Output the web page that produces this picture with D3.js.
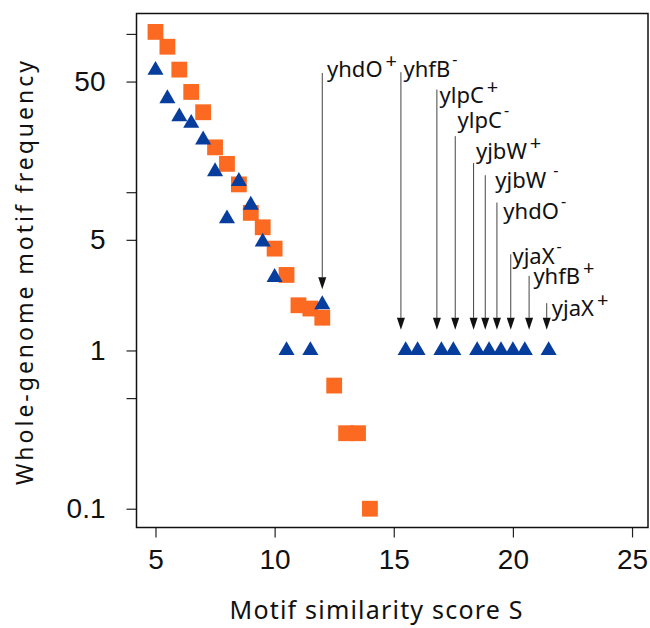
<!DOCTYPE html>
<html>
<head>
<meta charset="utf-8">
<script src="https://cdn.jsdelivr.net/npm/d3@7"></script>
<style>
  body { margin: 0; background: #fff; }
  svg { display: block; }
</style>
</head>
<body>
<div id="chart"></div>
<script>
// orange squares
var sqScore = [5, 5.5, 6, 6.5, 7, 7.5, 8, 8.5, 9, 9.5, 10, 10.5, 11, 11.5, 12, 12.5, 13, 13.5, 14];
var sqFreq  = [103, 83, 59.5, 43, 32, 19.2, 15.1, 11.2, 7.4, 6.0, 4.4, 3.0, 1.93, 1.84, 1.61, 0.6, 0.3, 0.3, 0.1];

// blue triangles
var triScore = [5, 5.5, 6, 6.5, 7, 7.5, 8, 8.5, 9, 9.5, 10, 10.5, 11.5, 12,
                15.5, 16, 17, 17.5, 18.5, 19, 19.5, 20, 20.5, 21.5];
var triFreq  = [59, 39, 30, 27.3, 21.4, 13.5, 6.8, 11.7, 8.3, 4.85, 2.9, 1, 1, 1.95,
                1, 1, 1, 1, 1, 1, 1, 1, 1, 1];

// arrow annotations
var annoGene   = ["yhdO", "yhfB", "ylpC", "ylpC", "yjbW", "yjbW", "yhdO", "yjaX", "yhfB", "yjaX"];
var annoStrand = ["+", "-", "+", "-", "+", "-", "-", "-", "+", "+"];
var annoScore  = [12, 15.30, 16.81, 17.58, 18.35, 18.84, 19.33, 19.91, 20.68, 21.42];
var annoTop    = [56.7, 57.3, 44.5, 22.6, 15.3, 12.8, 8.6, 4.05, 2.96, 1.99];
var annoTip    = [2.44, 1.35, 1.35, 1.35, 1.35, 1.35, 1.35, 1.35, 1.35, 1.35];
var labelScore = [12.20, 15.41, 16.92, 17.68, 18.45, 19.26, 19.60, 19.98, 20.86, 21.63];
var labelFreq  = [53.5, 53.8, 36.7, 25.5, 16.1, 10.7, 6.74, 3.5, 2.62, 1.66];

var xTicks = [5, 10, 15, 20, 25];
var yTicks = [0.1, 0.5, 1, 5, 10, 50, 100];
var yLabeled = [0.1, 1, 5, 50];

var width = 650, height = 628;
var box = {left: 136.5, right: 648, top: 13.5, bottom: 527.5};

var svg = d3.select("#chart").append("svg")
  .attr("width", width)
  .attr("height", height);

var x = d3.scaleLinear().domain([4.203, 25.67]).range([box.left, box.right]);
var y = d3.scaleLog().domain([0.0761, 134.6]).range([box.bottom, box.top]);

// axes
var xAxis = svg.append("g")
  .attr("transform", "translate(0," + box.bottom + ")")
  .call(d3.axisBottom(x).tickValues(xTicks).tickSize(10).tickPadding(12).tickFormat(d3.format("d")));
xAxis.select(".domain").remove();
xAxis.selectAll("text").style("font-family", "Liberation Sans").style("font-size", "28px").attr("fill", "#111");

var yAxis = svg.append("g")
  .attr("transform", "translate(" + box.left + ",0)")
  .call(d3.axisLeft(y).tickValues(yTicks).tickSize(10).tickPadding(21)
    .tickFormat(function(d) { return yLabeled.indexOf(d) >= 0 ? String(d) : ""; }));
yAxis.select(".domain").remove();
yAxis.selectAll("text").style("font-family", "Liberation Sans").style("font-size", "28px").attr("fill", "#111");

svg.selectAll(".tick line").attr("stroke", "#222").attr("stroke-width", 1.2);

// frame
svg.append("rect")
  .attr("x", box.left).attr("y", box.top)
  .attr("width", box.right - box.left).attr("height", box.bottom - box.top)
  .attr("fill", "none").attr("stroke", "#111").attr("stroke-width", 1.5);

// axis titles
svg.append("text")
  .attr("x", 376).attr("y", 619)
  .attr("text-anchor", "middle")
  .attr("textLength", 293).attr("lengthAdjust", "spacing")
  .style("font-family", "Noto Sans").style("font-size", "25px").attr("fill", "#111")
  .text("Motif similarity score S");

svg.append("text")
  .attr("transform", "translate(33,273) rotate(-90)")
  .attr("text-anchor", "middle")
  .attr("textLength", 424).attr("lengthAdjust", "spacing")
  .style("font-family", "Noto Sans").style("font-size", "23px").attr("fill", "#111")
  .text("Whole-genome motif frequency");

// squares
var sqData = sqScore.map(function(s, i) { return {s: s, f: sqFreq[i]}; });
svg.selectAll(".sq")
  .data(sqData)
  .enter().append("path")
  .attr("class", "sq")
  .attr("d", d3.symbol().type(d3.symbolSquare).size(250))
  .attr("transform", function(d) { return "translate(" + x(d.s) + "," + y(d.f) + ")"; })
  .attr("fill", "#fc6a21");

// triangles
var triData = triScore.map(function(s, i) { return {s: s, f: triFreq[i]}; });
svg.selectAll(".tri")
  .data(triData)
  .enter().append("path")
  .attr("class", "tri")
  .attr("d", d3.symbol().type(d3.symbolTriangle).size(112))
  .attr("transform", function(d) { return "translate(" + x(d.s) + "," + y(d.f) + ")"; })
  .attr("fill", "#073d9c");

// arrows
var anno = annoGene.map(function(g, i) {
  return {gene: g, strand: annoStrand[i], s: annoScore[i], top: annoTop[i], tip: annoTip[i],
          ls: labelScore[i], lf: labelFreq[i]};
});

var ag = svg.selectAll(".anno")
  .data(anno)
  .enter().append("g")
  .attr("class", "anno");

ag.append("line")
  .attr("x1", function(d) { return x(d.s); })
  .attr("x2", function(d) { return x(d.s); })
  .attr("y1", function(d) { return y(d.top); })
  .attr("y2", function(d) { return y(d.tip) - 12; })
  .attr("stroke", "#444").attr("stroke-width", 1);

ag.append("path")
  .attr("d", function(d) {
    var px = x(d.s), py = y(d.tip);
    return "M" + (px - 4) + "," + (py - 12) + "L" + (px + 4) + "," + (py - 12) + "L" + px + "," + py + "Z";
  })
  .attr("fill", "#111");

var lab = ag.append("text")
  .attr("x", function(d) { return x(d.ls); })
  .attr("y", function(d) { return y(d.lf); })
  .style("font-family", "Noto Sans").style("font-size", "22px").attr("fill", "#111");
lab.append("tspan").text(function(d) { return d.gene; });
lab.append("tspan")
  .attr("dx", function(d, i) { return i == 5 ? 7 : (d.strand == "+" ? 3 : 2); })
  .attr("dy", function(d) { return d.strand == "+" ? -9 : -12; })
  .style("font-size", function(d) { return d.strand == "+" ? "20px" : "16px"; })
  .text(function(d) { return d.strand; });
</script>
</body>
</html>
